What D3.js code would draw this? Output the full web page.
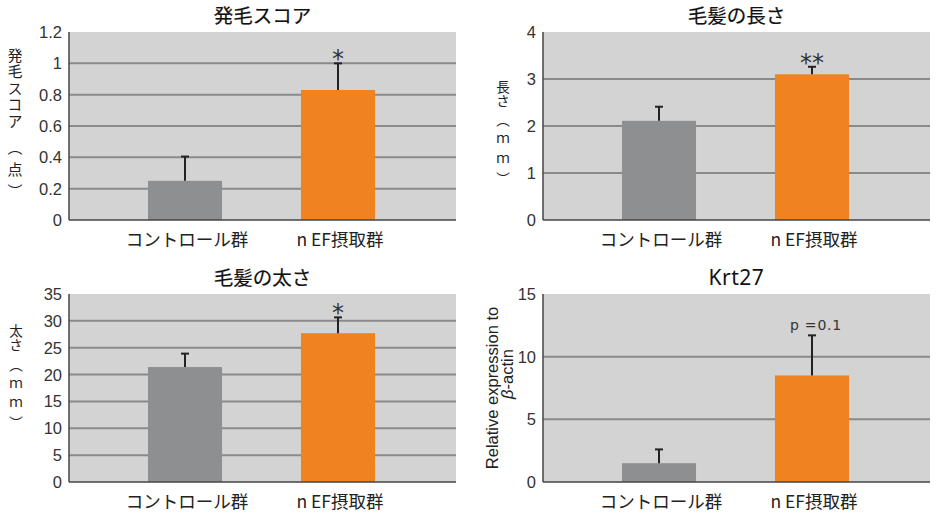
<!DOCTYPE html>
<html>
<head>
<meta charset="utf-8">
<script src="https://cdn.jsdelivr.net/npm/d3@7"></script>
<style>
  body { margin: 0; background: #fff; }
  svg { display: block; }
</style>
</head>
<body>
<svg id="chart"></svg>
<script>
// data
const groups = ["コントロール群", "n EF摂取群"];

const scoreMean = [0.25, 0.83];
const scoreSD = [0.155, 0.17];
const scoreTicks = [0, 0.2, 0.4, 0.6, 0.8, 1, 1.2];

const lengthMean = [2.11, 3.1];
const lengthSD = [0.3, 0.16];
const lengthTicks = [0, 1, 2, 3, 4];

const thickMean = [21.4, 27.7];
const thickSD = [2.5, 2.95];
const thickTicks = [0, 5, 10, 15, 20, 25, 30, 35];

const krtMean = [1.5, 8.5];
const krtSD = [1.1, 3.2];
const krtTicks = [0, 5, 10, 15];

const titles = ["発毛スコア", "毛髪の長さ", "毛髪の太さ", "Krt27"];
const marks = ["*", "**", "*", "p =0.1"];
const yLabelMain = ["発毛スコア", "長さ", "太さ"];
const yLabelUnit = ["（点）", "（ｍｍ）", "（ｍｍ）"];

const width = 945;
const height = 515;
const barColors = ["#8d8f90", "#f0821f"];
const jp = "'Noto Sans CJK JP', sans-serif";
const num = "'Liberation Sans', Arial, sans-serif";

const svg = d3.select("#chart")
    .attr("width", width)
    .attr("height", height)
    .attr("viewBox", `0 0 ${width} ${height}`);

const panels = [
  { x0: 69, x1: 456, y0: 32, y1: 220, mean: scoreMean, sd: scoreSD, ticks: scoreTicks,
    title: titles[0], mark: marks[0], yl: { x: 15, top: 47.5, size: 15, ls: 1.5, gap: 9, ls2: 7 } },
  { x0: 543, x1: 930, y0: 32, y1: 220, mean: lengthMean, sd: lengthSD, ticks: lengthTicks,
    title: titles[1], mark: marks[1], yl: { x: 503, top: 80.25, size: 13.5, ls: 0, gap: 6, ls2: 6 } },
  { x0: 69, x1: 456, y0: 294, y1: 482, mean: thickMean, sd: thickSD, ticks: thickTicks,
    title: titles[2], mark: marks[2], yl: { x: 16, top: 324.25, size: 13.5, ls: 0, gap: 6.5, ls2: 6 } },
  { x0: 543, x1: 930, y0: 294, y1: 482, mean: krtMean, sd: krtSD, ticks: krtTicks,
    title: titles[3], mark: marks[3], yl: null }
];

panels.forEach((p, i) => {
  const g = svg.append("g");

  const x = d3.scaleBand()
      .domain(groups)
      .range([p.x0 + 39.5, p.x0 + 345.5])
      .paddingInner(0.516)
      .paddingOuter(0.258);

  const y = d3.scaleLinear()
      .domain([0, d3.max(p.ticks)])
      .range([p.y1, p.y0]);

  // plot background
  g.append("rect")
      .attr("x", p.x0).attr("y", p.y0)
      .attr("width", p.x1 - p.x0).attr("height", p.y1 - p.y0)
      .attr("fill", "#d3d3d3");

  // gridlines (not at 0 or top)
  g.append("g")
    .selectAll("line")
    .data(p.ticks.slice(1, -1))
    .join("line")
      .attr("x1", p.x0).attr("x2", p.x1)
      .attr("y1", d => y(d)).attr("y2", d => y(d))
      .attr("stroke", "#8a8a8a")
      .attr("stroke-width", 2);

  // bars
  const rows = groups.map((k, j) => ({ k, m: p.mean[j], s: p.sd[j], c: barColors[j] }));

  g.append("g")
    .selectAll("rect")
    .data(rows)
    .join("rect")
      .attr("x", d => x(d.k))
      .attr("y", d => y(d.m))
      .attr("width", x.bandwidth())
      .attr("height", d => p.y1 - y(d.m))
      .attr("fill", d => d.c);

  // error bars, upper half only
  const eb = g.append("g").attr("stroke", "#222").attr("stroke-width", 2);
  rows.forEach(d => {
    const cx = x(d.k) + x.bandwidth() / 2;
    eb.append("line")
        .attr("x1", cx).attr("x2", cx)
        .attr("y1", y(d.m)).attr("y2", y(d.m + d.s));
    eb.append("line")
        .attr("x1", cx - 4).attr("x2", cx + 4)
        .attr("y1", y(d.m + d.s)).attr("y2", y(d.m + d.s));
  });

  // significance mark
  const last = rows[1];
  const mx = x(last.k) + x.bandwidth() / 2;
  if (p.mark.startsWith("p")) {
    g.append("text")
        .attr("x", mx + 4).attr("y", y(last.m + last.s) - 5)
        .attr("text-anchor", "middle")
        .attr("font-family", "'DejaVu Sans', sans-serif")
        .attr("font-size", 14)
        .attr("letter-spacing", 0.8)
        .attr("fill", "#333")
        .text(p.mark);
  } else {
    g.append("text")
        .attr("x", mx).attr("y", y(last.m + last.s) + 4)
        .attr("text-anchor", "middle")
        .attr("font-family", "'DejaVu Sans', sans-serif")
        .attr("font-size", 24)
        .attr("fill", "#333")
        .text(p.mark);
  }

  // axes lines
  g.append("line")
      .attr("x1", p.x0).attr("x2", p.x0)
      .attr("y1", p.y0).attr("y2", p.y1)
      .attr("stroke", "#444").attr("stroke-width", 1.5);
  g.append("line")
      .attr("x1", p.x0).attr("x2", p.x1)
      .attr("y1", p.y1).attr("y2", p.y1)
      .attr("stroke", "#444").attr("stroke-width", 1.5);

  // y tick labels
  g.append("g")
    .selectAll("text")
    .data(p.ticks)
    .join("text")
      .attr("x", p.x0 - 7)
      .attr("y", d => y(d))
      .attr("dy", "0.36em")
      .attr("text-anchor", "end")
      .attr("font-family", num)
      .attr("font-size", 16.5)
      .attr("fill", "#333")
      .text(d => d);

  // x labels
  g.append("g")
    .selectAll("text")
    .data(groups)
    .join("text")
      .attr("x", d => x(d) + x.bandwidth() / 2 + 2)
      .attr("y", p.y1 + 26)
      .attr("text-anchor", "middle")
      .attr("font-family", jp)
      .attr("font-size", 17.5)
      .attr("fill", "#222")
      .text(d => d);

  // title
  g.append("text")
      .attr("x", (p.x0 + p.x1) / 2)
      .attr("y", p.y0 - 9)
      .attr("text-anchor", "middle")
      .attr("font-family", i === 3 ? "'Noto Sans', sans-serif" : jp)
      .attr("font-size", i === 3 ? 21 : 19.5)
      .attr("letter-spacing", i === 3 ? 0.5 : 0)
      .attr("fill", "#111")
      .attr("stroke", "#111")
      .attr("stroke-width", i === 3 ? 0 : 0.2)
      .text(p.title);

  // y label, written top to bottom
  if (p.yl) {
    const o = p.yl;
    const t = g.append("text")
        .attr("x", o.x)
        .attr("y", o.top)
        .style("writing-mode", "vertical-rl")
        .style("text-orientation", "upright")
        .attr("font-family", jp)
        .attr("font-size", o.size)
        .attr("letter-spacing", o.ls)
        .attr("fill", "#222");
    t.append("tspan").text(yLabelMain[i]);
    t.append("tspan")
        .attr("dy", o.gap)
        .attr("letter-spacing", o.ls2)
        .text(yLabelUnit[i]);
  } else {
    const yl = g.append("text")
        .attr("transform", `translate(498, 388) rotate(-90)`)
        .attr("text-anchor", "middle")
        .attr("font-family", num)
        .attr("font-size", 16.5)
        .attr("fill", "#222");
    yl.append("tspan").attr("x", 0).attr("y", 0).text("Relative expression to");
    const t2 = yl.append("tspan").attr("x", 14).attr("y", 15);
    t2.append("tspan").attr("font-style", "italic").text("β");
    t2.append("tspan").text("-actin");
  }
});
</script>
</body>
</html>
